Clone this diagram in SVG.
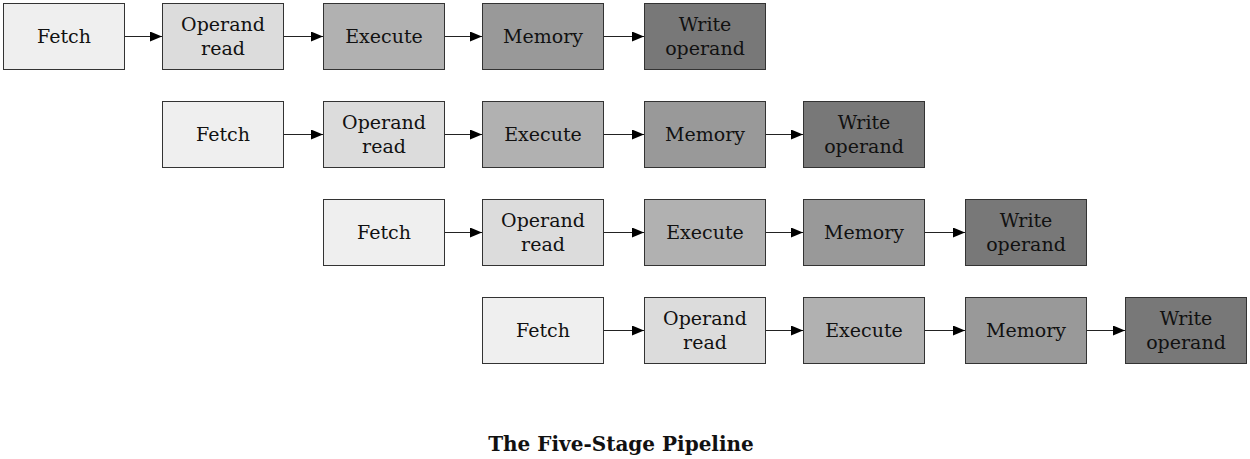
<svg xmlns="http://www.w3.org/2000/svg" width="1250" height="459" viewBox="0 0 1250 459">
<style>
.b{stroke:#333;stroke-width:1}
.s1{fill:#efefef}.s2{fill:#dcdcdc}.s3{fill:#b1b1b1}.s4{fill:#999999}.s5{fill:#787878}
text{font-family:"DejaVu Serif","Liberation Serif",serif;font-size:19px;fill:#111;text-anchor:middle}
.t{font-weight:bold;font-size:20px}
.c line{stroke:#222;stroke-width:1.2;marker-end:url(#a)}
</style>
<defs><marker id="a" markerWidth="12" markerHeight="10" refX="12" refY="5" orient="auto" markerUnits="userSpaceOnUse"><path d="M0,0L12,5L0,10Z" fill="#000"/></marker></defs>
<g id="r1">
<g id="n1a"><rect class="b s1" x="3.5" y="3.5" width="121" height="66"/><text x="64" y="43">Fetch</text></g>
<g id="n1b"><rect class="b s2" x="162.5" y="3.5" width="121" height="66"/><text x="223" y="31">Operand</text><text x="223" y="55">read</text></g>
<g id="n1c"><rect class="b s3" x="323.5" y="3.5" width="121" height="66"/><text x="384" y="43">Execute</text></g>
<g id="n1d"><rect class="b s4" x="482.5" y="3.5" width="121" height="66"/><text x="543" y="43">Memory</text></g>
<g id="n1e"><rect class="b s5" x="644.5" y="3.5" width="121" height="66"/><text x="705" y="31">Write</text><text x="705" y="55">operand</text></g>
</g>
<g id="r2">
<g id="n2a"><rect class="b s1" x="162.5" y="101.5" width="121" height="66"/><text x="223" y="141">Fetch</text></g>
<g id="n2b"><rect class="b s2" x="323.5" y="101.5" width="121" height="66"/><text x="384" y="129">Operand</text><text x="384" y="153">read</text></g>
<g id="n2c"><rect class="b s3" x="482.5" y="101.5" width="121" height="66"/><text x="543" y="141">Execute</text></g>
<g id="n2d"><rect class="b s4" x="644.5" y="101.5" width="121" height="66"/><text x="705" y="141">Memory</text></g>
<g id="n2e"><rect class="b s5" x="803.5" y="101.5" width="121" height="66"/><text x="864" y="129">Write</text><text x="864" y="153">operand</text></g>
</g>
<g id="r3">
<g id="n3a"><rect class="b s1" x="323.5" y="199.5" width="121" height="66"/><text x="384" y="239">Fetch</text></g>
<g id="n3b"><rect class="b s2" x="482.5" y="199.5" width="121" height="66"/><text x="543" y="227">Operand</text><text x="543" y="251">read</text></g>
<g id="n3c"><rect class="b s3" x="644.5" y="199.5" width="121" height="66"/><text x="705" y="239">Execute</text></g>
<g id="n3d"><rect class="b s4" x="803.5" y="199.5" width="121" height="66"/><text x="864" y="239">Memory</text></g>
<g id="n3e"><rect class="b s5" x="965.5" y="199.5" width="121" height="66"/><text x="1026" y="227">Write</text><text x="1026" y="251">operand</text></g>
</g>
<g id="r4">
<g id="n4a"><rect class="b s1" x="482.5" y="297.5" width="121" height="66"/><text x="543" y="337">Fetch</text></g>
<g id="n4b"><rect class="b s2" x="644.5" y="297.5" width="121" height="66"/><text x="705" y="325">Operand</text><text x="705" y="349">read</text></g>
<g id="n4c"><rect class="b s3" x="803.5" y="297.5" width="121" height="66"/><text x="864" y="337">Execute</text></g>
<g id="n4d"><rect class="b s4" x="965.5" y="297.5" width="121" height="66"/><text x="1026" y="337">Memory</text></g>
<g id="n4e"><rect class="b s5" x="1125.5" y="297.5" width="121" height="66"/><text x="1186" y="325">Write</text><text x="1186" y="349">operand</text></g>
</g>
<g id="connectors" class="c">
<line x1="125" y1="36.5" x2="162" y2="36.5"/><line x1="284" y1="36.5" x2="323" y2="36.5"/><line x1="445" y1="36.5" x2="482" y2="36.5"/><line x1="604" y1="36.5" x2="644" y2="36.5"/>
<line x1="284" y1="134.5" x2="323" y2="134.5"/><line x1="445" y1="134.5" x2="482" y2="134.5"/><line x1="604" y1="134.5" x2="644" y2="134.5"/><line x1="766" y1="134.5" x2="803" y2="134.5"/>
<line x1="445" y1="232.5" x2="482" y2="232.5"/><line x1="604" y1="232.5" x2="644" y2="232.5"/><line x1="766" y1="232.5" x2="803" y2="232.5"/><line x1="925" y1="232.5" x2="965" y2="232.5"/>
<line x1="604" y1="330.5" x2="644" y2="330.5"/><line x1="766" y1="330.5" x2="803" y2="330.5"/><line x1="925" y1="330.5" x2="965" y2="330.5"/><line x1="1087" y1="330.5" x2="1125" y2="330.5"/>
</g>
<text class="t" x="621" y="451">The Five-Stage Pipeline</text>
</svg>
